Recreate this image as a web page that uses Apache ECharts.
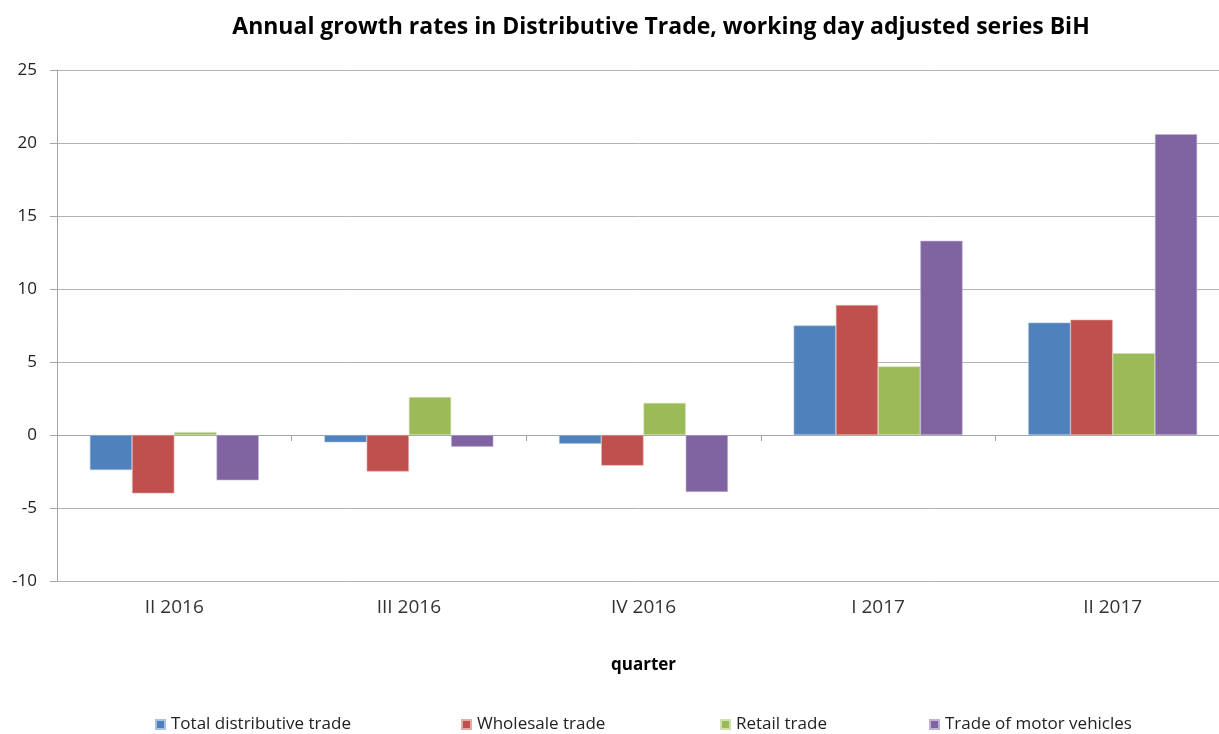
<!DOCTYPE html>
<html>
<head>
<meta charset="utf-8">
<script src="https://cdn.jsdelivr.net/npm/echarts@6/dist/echarts.min.js"></script>
<style>
html,body{margin:0;padding:0;background:#fff;overflow:hidden;}
#chart{width:1219px;height:734px;}
</style>
</head>
<body>
<div id="chart"></div>
<script>
const categories = ['II 2016', 'III 2016', 'IV 2016', 'I 2017', 'II 2017'];
const seriesNames = ['Total distributive trade', 'Wholesale trade', 'Retail trade', 'Trade of motor vehicles'];
const totalDistributive = [-2.4, -0.5, -0.6, 7.5, 7.7];
const wholesale = [-4.0, -2.5, -2.1, 8.9, 7.9];
const retail = [0.2, 2.6, 2.2, 4.7, 5.6];
const motorVehicles = [-3.1, -0.8, -3.9, 13.3, 20.6];
const yTicks = [-10, -5, 0, 5, 10, 15, 20, 25];

const colors = ['#4F81BD', '#C0504D', '#9BBB59', '#8064A2'];
const borders = ['#a9c1e0', '#e5a9a7', '#cfe0ad', '#c0b2d1'];
const values = [totalDistributive, wholesale, retail, motorVehicles];
const FONT = 'Open Sans';

const chart = echarts.init(document.getElementById('chart'));
const legendLefts = [155, 461, 720, 929];

chart.setOption({
  animation: false,
  color: colors,
  title: {
    text: 'Annual growth rates in Distributive Trade, working day adjusted series BiH',
    left: 656,
    textAlign: 'center',
    top: 11,
    textStyle: { fontFamily: FONT, fontSize: 23, fontWeight: 'bold', color: '#000' }
  },
  legend: seriesNames.map((n, i) => ({
    data: [n],
    left: legendLefts[i],
    top: 716,
    padding: 0,
    itemWidth: 9,
    itemHeight: 9,
    itemGap: 0,
    icon: 'rect',
    textStyle: { fontFamily: FONT, fontSize: 17, color: '#222', padding: [0, 0, 0, 1] }
  })),
  grid: { left: 57, width: 1173, top: 70, bottom: 153, containLabel: false, outerBoundsMode: 'none' },
  xAxis: [
    {
      type: 'category',
      data: categories,
      position: 'bottom',
      axisLine: { onZero: true, lineStyle: { color: '#A6A6A6', width: 1 } },
      axisTick: { show: true, length: 6, inside: false, lineStyle: { color: '#A6A6A6' } },
      axisLabel: { show: false }
    },
    {
      type: 'category',
      data: categories,
      position: 'bottom',
      axisLine: { show: false, onZero: false },
      axisTick: { show: false },
      axisLabel: { show: true, margin: 17, fontFamily: FONT, fontSize: 19, color: '#333' },
      name: 'quarter',
      nameLocation: 'middle',
      nameGap: 76,
      nameTextStyle: { fontFamily: FONT, fontSize: 17, fontWeight: 'bold', color: '#000', padding: [0, 0, 0, 0] }
    }
  ],
  yAxis: {
    type: 'value',
    min: -10,
    max: 25,
    interval: 5,
    axisLine: { show: true, lineStyle: { color: '#A6A6A6' } },
    axisTick: { show: true, length: 7, lineStyle: { color: '#A6A6A6' } },
    splitLine: { show: true, lineStyle: { color: '#B3B3B3', width: 1 } },
    axisLabel: {
      fontFamily: FONT, fontSize: 17, color: '#222', margin: 20,
      formatter: v => (yTicks.includes(v) ? String(v) : '')
    }
  },
  series: seriesNames.map((n, i) => ({
    name: n,
    type: 'bar',
    xAxisIndex: 0,
    data: values[i],
    barGap: '0%',
    barCategoryGap: '28%',
    itemStyle: { color: colors[i], borderColor: borders[i], borderWidth: 0.6 }
  }))
});
</script>
</body>
</html>
